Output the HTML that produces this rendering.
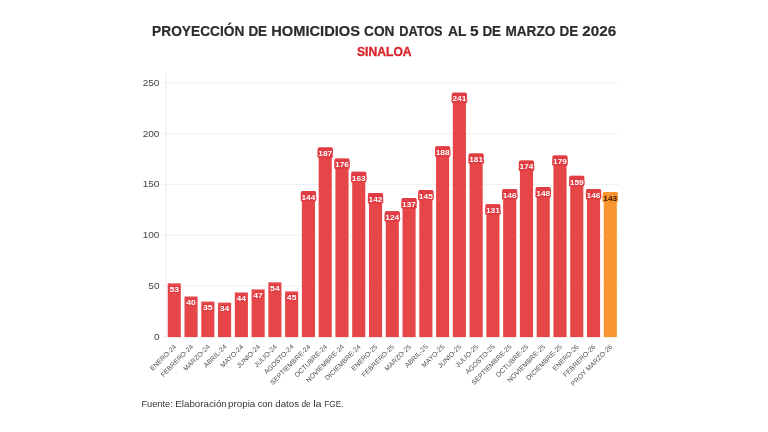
<!DOCTYPE html>
<html lang="es"><head><meta charset="utf-8"><title>Proyección de homicidios - Sinaloa</title>
<style>
html,body{margin:0;padding:0;background:#fff;}
body{width:768px;height:432px;overflow:hidden;font-family:"Liberation Sans",sans-serif;}
svg{display:block;}
text{font-family:"Liberation Sans",sans-serif;}
.ttl{font-weight:700;font-size:14.4px;fill:#2d2d2d;stroke:#2d2d2d;stroke-width:0.2px;}
.sub{font-weight:700;font-size:12px;fill:#d8232a;stroke:#d8232a;stroke-width:0.3px;}
.yl{font-size:9px;fill:#444;}
.xl{font-size:6.8px;fill:#4e4e4e;}
.vl{font-weight:700;font-size:8px;fill:#fff;stroke-width:2.4px;stroke-linejoin:round;paint-order:stroke;}
.ft{font-size:9.2px;fill:#333;}
</style></head><body>
<svg width="768" height="432" viewBox="0 0 768 432">
<rect width="768" height="432" fill="#fff"/>

<text class="ttl" y="36.4">
<tspan x="152.10" textLength="92.30" lengthAdjust="spacingAndGlyphs">PROYECCIÓN</tspan> 
<tspan x="248.40" textLength="18.70" lengthAdjust="spacingAndGlyphs">DE</tspan> 
<tspan x="271.30" textLength="88.70" lengthAdjust="spacingAndGlyphs">HOMICIDIOS</tspan> 
<tspan x="364.00" textLength="30.40" lengthAdjust="spacingAndGlyphs">CON</tspan> 
<tspan x="399.20" textLength="43.40" lengthAdjust="spacingAndGlyphs">DATOS</tspan> 
<tspan x="448.10" textLength="18.20" lengthAdjust="spacingAndGlyphs">AL</tspan> 
<tspan x="469.90" textLength="8.60" lengthAdjust="spacingAndGlyphs">5</tspan> 
<tspan x="482.40" textLength="18.70" lengthAdjust="spacingAndGlyphs">DE</tspan> 
<tspan x="505.40" textLength="49.90" lengthAdjust="spacingAndGlyphs">MARZO</tspan> 
<tspan x="559.60" textLength="18.70" lengthAdjust="spacingAndGlyphs">DE</tspan> 
<tspan x="582.30" textLength="33.80" lengthAdjust="spacingAndGlyphs">2026</tspan>
</text>
<text class="sub" x="384.3" y="55.5" text-anchor="middle" textLength="54.6" lengthAdjust="spacingAndGlyphs">SINALOA</text>
<line x1="161.5" x2="619.5" y1="336.9" y2="336.9" stroke="#f1f1f1" stroke-width="1"/>
<text class="yl" x="159.5" y="339.8" text-anchor="end" textLength="5.6" lengthAdjust="spacingAndGlyphs">0</text>
<line x1="161.5" x2="619.5" y1="286.1" y2="286.1" stroke="#f1f1f1" stroke-width="1"/>
<text class="yl" x="159.5" y="289.0" text-anchor="end" textLength="11.2" lengthAdjust="spacingAndGlyphs">50</text>
<line x1="161.5" x2="619.5" y1="235.3" y2="235.3" stroke="#f1f1f1" stroke-width="1"/>
<text class="yl" x="159.5" y="238.2" text-anchor="end" textLength="16.8" lengthAdjust="spacingAndGlyphs">100</text>
<line x1="161.5" x2="619.5" y1="184.5" y2="184.5" stroke="#f1f1f1" stroke-width="1"/>
<text class="yl" x="159.5" y="187.4" text-anchor="end" textLength="16.8" lengthAdjust="spacingAndGlyphs">150</text>
<line x1="161.5" x2="619.5" y1="133.7" y2="133.7" stroke="#f1f1f1" stroke-width="1"/>
<text class="yl" x="159.5" y="136.6" text-anchor="end" textLength="16.8" lengthAdjust="spacingAndGlyphs">200</text>
<line x1="161.5" x2="619.5" y1="82.9" y2="82.9" stroke="#f1f1f1" stroke-width="1"/>
<text class="yl" x="159.5" y="85.8" text-anchor="end" textLength="16.8" lengthAdjust="spacingAndGlyphs">250</text>
<line x1="166.1" x2="166.1" y1="72.2" y2="337.4" stroke="#ececec" stroke-width="1"/>
<rect x="167.73" y="283.36" width="13.1" height="53.74" fill="#e74649"/>
<rect x="184.50" y="296.54" width="13.1" height="40.56" fill="#e74649"/>
<rect x="201.27" y="301.61" width="13.1" height="35.49" fill="#e74649"/>
<rect x="218.04" y="302.62" width="13.1" height="34.48" fill="#e74649"/>
<rect x="234.81" y="292.48" width="13.1" height="44.62" fill="#e74649"/>
<rect x="251.58" y="289.44" width="13.1" height="47.66" fill="#e74649"/>
<rect x="268.35" y="282.34" width="13.1" height="54.76" fill="#e74649"/>
<rect x="285.12" y="291.47" width="13.1" height="45.63" fill="#e74649"/>
<rect x="301.89" y="191.08" width="13.1" height="146.02" fill="#e74649"/>
<rect x="300.84" y="190.98" width="15.2" height="10.6" rx="1.5" fill="#e03e44"/>
<rect x="318.67" y="147.48" width="13.1" height="189.62" fill="#e74649"/>
<rect x="317.62" y="147.38" width="15.2" height="10.6" rx="1.5" fill="#e03e44"/>
<rect x="335.44" y="158.64" width="13.1" height="178.46" fill="#e74649"/>
<rect x="334.38" y="158.54" width="15.2" height="10.6" rx="1.5" fill="#e03e44"/>
<rect x="352.20" y="171.82" width="13.1" height="165.28" fill="#e74649"/>
<rect x="351.15" y="171.72" width="15.2" height="10.6" rx="1.5" fill="#e03e44"/>
<rect x="368.97" y="193.11" width="13.1" height="143.99" fill="#e74649"/>
<rect x="367.92" y="193.01" width="15.2" height="10.6" rx="1.5" fill="#e03e44"/>
<rect x="385.74" y="211.36" width="13.1" height="125.74" fill="#e74649"/>
<rect x="384.69" y="211.26" width="15.2" height="10.6" rx="1.5" fill="#e03e44"/>
<rect x="402.51" y="198.18" width="13.1" height="138.92" fill="#e74649"/>
<rect x="401.46" y="198.08" width="15.2" height="10.6" rx="1.5" fill="#e03e44"/>
<rect x="419.29" y="190.07" width="13.1" height="147.03" fill="#e74649"/>
<rect x="418.24" y="189.97" width="15.2" height="10.6" rx="1.5" fill="#e03e44"/>
<rect x="436.06" y="146.47" width="13.1" height="190.63" fill="#e74649"/>
<rect x="435.00" y="146.37" width="15.2" height="10.6" rx="1.5" fill="#e03e44"/>
<rect x="452.82" y="92.73" width="13.1" height="244.37" fill="#e74649"/>
<rect x="451.77" y="92.63" width="15.2" height="10.6" rx="1.5" fill="#e03e44"/>
<rect x="469.59" y="153.57" width="13.1" height="183.53" fill="#e74649"/>
<rect x="468.54" y="153.47" width="15.2" height="10.6" rx="1.5" fill="#e03e44"/>
<rect x="486.36" y="204.27" width="13.1" height="132.83" fill="#e74649"/>
<rect x="485.31" y="204.17" width="15.2" height="10.6" rx="1.5" fill="#e03e44"/>
<rect x="503.13" y="189.06" width="13.1" height="148.04" fill="#e74649"/>
<rect x="502.08" y="188.96" width="15.2" height="10.6" rx="1.5" fill="#e03e44"/>
<rect x="519.91" y="160.66" width="13.1" height="176.44" fill="#e74649"/>
<rect x="518.86" y="160.56" width="15.2" height="10.6" rx="1.5" fill="#e03e44"/>
<rect x="536.68" y="187.03" width="13.1" height="150.07" fill="#e74649"/>
<rect x="535.62" y="186.93" width="15.2" height="10.6" rx="1.5" fill="#e03e44"/>
<rect x="553.45" y="155.59" width="13.1" height="181.51" fill="#e74649"/>
<rect x="552.39" y="155.49" width="15.2" height="10.6" rx="1.5" fill="#e03e44"/>
<rect x="570.22" y="175.87" width="13.1" height="161.23" fill="#e74649"/>
<rect x="569.16" y="175.77" width="15.2" height="10.6" rx="1.5" fill="#e03e44"/>
<rect x="586.99" y="189.06" width="13.1" height="148.04" fill="#e74649"/>
<rect x="585.93" y="188.96" width="15.2" height="10.6" rx="1.5" fill="#e03e44"/>
<rect x="603.75" y="192.10" width="13.1" height="145.00" fill="#fa9632"/>
<rect x="602.70" y="192.00" width="15.2" height="10.6" rx="1.5" fill="#f8932f"/>
<text class="vl" x="174.28" y="292.06" text-anchor="middle" textLength="9.6" lengthAdjust="spacingAndGlyphs" style="fill:#fff;stroke:#df3b41">53</text>
<text class="xl" text-anchor="end" transform="translate(176.78 347.2) rotate(-45)">ENERO-24</text>
<text class="vl" x="191.06" y="305.24" text-anchor="middle" textLength="9.6" lengthAdjust="spacingAndGlyphs" style="fill:#fff;stroke:#df3b41">40</text>
<text class="xl" text-anchor="end" transform="translate(193.56 347.2) rotate(-45)">FEBRERO-24</text>
<text class="vl" x="207.82" y="310.31" text-anchor="middle" textLength="9.6" lengthAdjust="spacingAndGlyphs" style="fill:#fff;stroke:#df3b41">35</text>
<text class="xl" text-anchor="end" transform="translate(210.32 347.2) rotate(-45)">MARZO-24</text>
<text class="vl" x="224.59" y="311.32" text-anchor="middle" textLength="9.6" lengthAdjust="spacingAndGlyphs" style="fill:#fff;stroke:#df3b41">34</text>
<text class="xl" text-anchor="end" transform="translate(227.09 347.2) rotate(-45)">ABRIL-24</text>
<text class="vl" x="241.37" y="301.18" text-anchor="middle" textLength="9.6" lengthAdjust="spacingAndGlyphs" style="fill:#fff;stroke:#df3b41">44</text>
<text class="xl" text-anchor="end" transform="translate(243.87 347.2) rotate(-45)">MAYO-24</text>
<text class="vl" x="258.13" y="298.14" text-anchor="middle" textLength="9.6" lengthAdjust="spacingAndGlyphs" style="fill:#fff;stroke:#df3b41">47</text>
<text class="xl" text-anchor="end" transform="translate(260.63 347.2) rotate(-45)">JUNIO-24</text>
<text class="vl" x="274.90" y="291.04" text-anchor="middle" textLength="9.6" lengthAdjust="spacingAndGlyphs" style="fill:#fff;stroke:#df3b41">54</text>
<text class="xl" text-anchor="end" transform="translate(277.40 347.2) rotate(-45)">JULIO-24</text>
<text class="vl" x="291.68" y="300.17" text-anchor="middle" textLength="9.6" lengthAdjust="spacingAndGlyphs" style="fill:#fff;stroke:#df3b41">45</text>
<text class="xl" text-anchor="end" transform="translate(294.18 347.2) rotate(-45)">AGOSTO-24</text>
<text class="vl" x="308.44" y="199.78" text-anchor="middle" textLength="13.9" lengthAdjust="spacingAndGlyphs" style="fill:#fff;stroke:#df3b41">144</text>
<text class="xl" text-anchor="end" transform="translate(310.94 347.2) rotate(-45)">SEPTIEMBRE-24</text>
<text class="vl" x="325.22" y="156.18" text-anchor="middle" textLength="13.9" lengthAdjust="spacingAndGlyphs" style="fill:#fff;stroke:#df3b41">187</text>
<text class="xl" text-anchor="end" transform="translate(327.72 347.2) rotate(-45)">OCTUBRE-24</text>
<text class="vl" x="341.99" y="167.34" text-anchor="middle" textLength="13.9" lengthAdjust="spacingAndGlyphs" style="fill:#fff;stroke:#df3b41">176</text>
<text class="xl" text-anchor="end" transform="translate(344.49 347.2) rotate(-45)">NOVIEMBRE-24</text>
<text class="vl" x="358.75" y="180.52" text-anchor="middle" textLength="13.9" lengthAdjust="spacingAndGlyphs" style="fill:#fff;stroke:#df3b41">163</text>
<text class="xl" text-anchor="end" transform="translate(361.25 347.2) rotate(-45)">DICIEMBRE-24</text>
<text class="vl" x="375.52" y="201.81" text-anchor="middle" textLength="13.9" lengthAdjust="spacingAndGlyphs" style="fill:#fff;stroke:#df3b41">142</text>
<text class="xl" text-anchor="end" transform="translate(378.02 347.2) rotate(-45)">ENERO-25</text>
<text class="vl" x="392.29" y="220.06" text-anchor="middle" textLength="13.9" lengthAdjust="spacingAndGlyphs" style="fill:#fff;stroke:#df3b41">124</text>
<text class="xl" text-anchor="end" transform="translate(394.79 347.2) rotate(-45)">FEBRERO-25</text>
<text class="vl" x="409.06" y="206.88" text-anchor="middle" textLength="13.9" lengthAdjust="spacingAndGlyphs" style="fill:#fff;stroke:#df3b41">137</text>
<text class="xl" text-anchor="end" transform="translate(411.56 347.2) rotate(-45)">MARZO-25</text>
<text class="vl" x="425.84" y="198.77" text-anchor="middle" textLength="13.9" lengthAdjust="spacingAndGlyphs" style="fill:#fff;stroke:#df3b41">145</text>
<text class="xl" text-anchor="end" transform="translate(428.34 347.2) rotate(-45)">ABRIL-25</text>
<text class="vl" x="442.61" y="155.17" text-anchor="middle" textLength="13.9" lengthAdjust="spacingAndGlyphs" style="fill:#fff;stroke:#df3b41">188</text>
<text class="xl" text-anchor="end" transform="translate(445.11 347.2) rotate(-45)">MAYO-25</text>
<text class="vl" x="459.38" y="101.43" text-anchor="middle" textLength="13.9" lengthAdjust="spacingAndGlyphs" style="fill:#fff;stroke:#df3b41">241</text>
<text class="xl" text-anchor="end" transform="translate(461.88 347.2) rotate(-45)">JUNIO-25</text>
<text class="vl" x="476.14" y="162.27" text-anchor="middle" textLength="13.9" lengthAdjust="spacingAndGlyphs" style="fill:#fff;stroke:#df3b41">181</text>
<text class="xl" text-anchor="end" transform="translate(478.64 347.2) rotate(-45)">JULIO-25</text>
<text class="vl" x="492.91" y="212.97" text-anchor="middle" textLength="13.9" lengthAdjust="spacingAndGlyphs" style="fill:#fff;stroke:#df3b41">131</text>
<text class="xl" text-anchor="end" transform="translate(495.41 347.2) rotate(-45)">AGOSTO-25</text>
<text class="vl" x="509.68" y="197.76" text-anchor="middle" textLength="13.9" lengthAdjust="spacingAndGlyphs" style="fill:#fff;stroke:#df3b41">146</text>
<text class="xl" text-anchor="end" transform="translate(512.18 347.2) rotate(-45)">SEPTIEMBRE-25</text>
<text class="vl" x="526.46" y="169.36" text-anchor="middle" textLength="13.9" lengthAdjust="spacingAndGlyphs" style="fill:#fff;stroke:#df3b41">174</text>
<text class="xl" text-anchor="end" transform="translate(528.96 347.2) rotate(-45)">OCTUBRE-25</text>
<text class="vl" x="543.23" y="195.73" text-anchor="middle" textLength="13.9" lengthAdjust="spacingAndGlyphs" style="fill:#fff;stroke:#df3b41">148</text>
<text class="xl" text-anchor="end" transform="translate(545.73 347.2) rotate(-45)">NOVIEMBRE-25</text>
<text class="vl" x="560.00" y="164.29" text-anchor="middle" textLength="13.9" lengthAdjust="spacingAndGlyphs" style="fill:#fff;stroke:#df3b41">179</text>
<text class="xl" text-anchor="end" transform="translate(562.50 347.2) rotate(-45)">DICIEMBRE-25</text>
<text class="vl" x="576.76" y="184.57" text-anchor="middle" textLength="13.9" lengthAdjust="spacingAndGlyphs" style="fill:#fff;stroke:#df3b41">159</text>
<text class="xl" text-anchor="end" transform="translate(579.26 347.2) rotate(-45)">ENERO-26</text>
<text class="vl" x="593.53" y="197.76" text-anchor="middle" textLength="13.9" lengthAdjust="spacingAndGlyphs" style="fill:#fff;stroke:#df3b41">146</text>
<text class="xl" text-anchor="end" transform="translate(596.03 347.2) rotate(-45)">FEBRERO-26</text>
<text class="vl" x="610.30" y="200.80" text-anchor="middle" textLength="13.9" lengthAdjust="spacingAndGlyphs" style="fill:#3b1a00;stroke:#f7922e">143</text>
<text class="xl" text-anchor="end" transform="translate(612.80 347.2) rotate(-45)">PROY MARZO-26</text>
<text class="ft" y="407.4">
<tspan x="141.40" textLength="31.40" lengthAdjust="spacingAndGlyphs">Fuente:</tspan> 
<tspan x="175.30" textLength="51.50" lengthAdjust="spacingAndGlyphs">Elaboración</tspan> 
<tspan x="228.00" textLength="27.30" lengthAdjust="spacingAndGlyphs">propia</tspan> 
<tspan x="257.70" textLength="15.10" lengthAdjust="spacingAndGlyphs">con</tspan> 
<tspan x="275.30" textLength="23.70" lengthAdjust="spacingAndGlyphs">datos</tspan> 
<tspan x="301.40" textLength="9.30" lengthAdjust="spacingAndGlyphs">de</tspan> 
<tspan x="313.20" textLength="8.50" lengthAdjust="spacingAndGlyphs">la</tspan> 
<tspan x="324.30" textLength="19.20" lengthAdjust="spacingAndGlyphs">FGE.</tspan>
</text>
</svg></body></html>
